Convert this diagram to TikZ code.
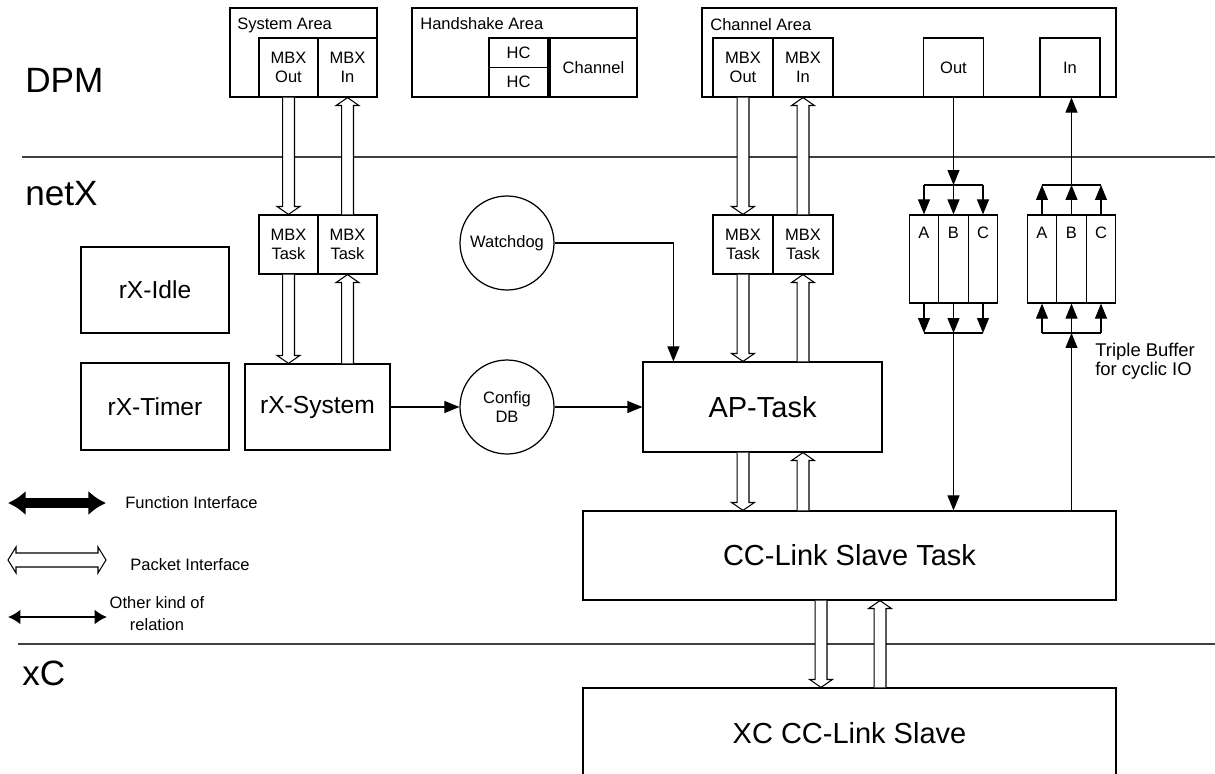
\documentclass[tikz,border=0pt]{standalone}
\usepackage{fontspec}
\setmainfont{Liberation Sans}
\usetikzlibrary{arrows.meta}
\usetikzlibrary{calc}

\begin{document}
\begin{tikzpicture}[x=0.02cm,y=-0.02cm]
    \tikzset{box/.style = {shape=rectangle,draw,line width=0.7pt,inner sep=0pt,align=center,font=\fontsize{9.4}{11}\selectfont}}
    \tikzset{box2/.style = {box,font=\fontsize{14}{16}\selectfont}}
    \tikzset{box3/.style = {box,font=\fontsize{16.5}{19}\selectfont}}
    \tikzset{circ/.style = {shape=circle,draw,line width=0.7pt,inner sep=0pt,minimum size=1.88cm,align=center,font=\fontsize{9.4}{11}\selectfont}}
    \tikzset{cell/.style = {box,minimum width=0.59cm,minimum height=1.76cm}}
    \tikzset{celltxt/.style = {anchor=north,yshift=-0.24cm,inner sep=0pt,font=\fontsize{9.4}{11}\selectfont}}
    \tikzset{txt/.style = {inner sep=0pt,font=\fontsize{9.4}{11}\selectfont}}
    \tikzset{sect/.style = {inner sep=0pt,anchor=base west,font=\fontsize{20}{24}\selectfont}}
    \tikzset{sepline/.style = {line width=0.9pt,black!75}}
    \tikzset{edge/.style = {line width=0.6pt,-{Triangle[length=8.5pt,width=6.8pt]}}}
    % hollow packet arrow (vertical)
    \tikzset{pkt/.style = {line width=0.6pt,fill=white,
      to path={let \p1=(\tikztostart), \p2=(\tikztotarget), \n1={(\y2-\y1)/abs(\y2-\y1)} in
        (\x1-3.4pt,\y1) -- (\x2-3.4pt,\y2-\n1*4.5pt) -- (\x2-6.5pt,\y2-\n1*4.5pt) -- (\x2,\y2)
        -- (\x2+6.5pt,\y2-\n1*4.5pt) -- (\x2+3.4pt,\y2-\n1*4.5pt) -- (\x1+3.4pt,\y1)}}}

    \useasboundingbox (0,0) rectangle (1215,774);

    % layers
    \draw[sepline] (22,157) -- (1215,157);
    \draw[sepline] (18,644) -- (1215,644);
    \node[sect] (dpm) at (25,92) {DPM};
    \node[sect] (netx) at (25,205) {netX};
    \node[sect] (xc) at (22,685) {xC};

    % DPM
    \node[box,minimum width=2.94cm,minimum height=1.78cm] (sysarea) at (303.5,52.5) {};
    \node[txt,anchor=base west] (sysareat) at (237,30) {System Area};
    \node[box,minimum width=1.18cm,minimum height=1.18cm] (sysout) at (288.5,67.5) {MBX\\Out};
    \node[box,minimum width=1.18cm,minimum height=1.18cm] (sysin) at (347.5,67.5) {MBX\\In};

    \node[box,minimum width=4.5cm,minimum height=1.78cm] (hsarea) at (524.5,52.5) {};
    \node[txt,anchor=base west] (hsareat) at (420,30) {Handshake Area};
    \node[box,minimum width=1.18cm,minimum height=0.59cm] (hca) at (518.5,52.75) {HC};
    \node[box,minimum width=1.18cm,minimum height=0.59cm] (hcb) at (518.5,82.25) {HC};
    \node[box,minimum width=1.74cm,minimum height=1.18cm] (chan) at (593.5,67.5) {Channel};

    \node[box,minimum width=8.28cm,minimum height=1.78cm] (charea) at (909,52.5) {};
    \node[txt,anchor=base west] (chareat) at (710,31) {Channel Area};
    \node[box,minimum width=1.2cm,minimum height=1.18cm] (chout) at (743,67.5) {MBX\\Out};
    \node[box,minimum width=1.2cm,minimum height=1.18cm] (chin) at (803,67.5) {MBX\\In};
    \node[box,minimum width=1.2cm,minimum height=1.18cm] (outbox) at (953.5,67.5) {Out};
    \node[box,minimum width=1.2cm,minimum height=1.18cm] (inbox) at (1070,67.5) {In};

    % netX
    \node[box,minimum width=1.18cm,minimum height=1.18cm] (systaska) at (288.5,244.5) {MBX\\Task};
    \node[box,minimum width=1.18cm,minimum height=1.18cm] (systaskb) at (347.5,244.5) {MBX\\Task};
    \node[box,minimum width=1.2cm,minimum height=1.18cm] (chtaska) at (743,244.5) {MBX\\Task};
    \node[box,minimum width=1.2cm,minimum height=1.18cm] (chtaskb) at (803,244.5) {MBX\\Task};

    \node[box2,minimum width=2.96cm,minimum height=1.72cm] (rxidle) at (155,290) {rX-Idle};
    \node[box2,minimum width=2.96cm,minimum height=1.74cm] (rxtimer) at (155,406.5) {rX-Timer};
    \node[box2,minimum width=2.9cm,minimum height=1.72cm] (rxsys) at (317.5,407) {rX-System};
    \node[circ] (wd) at (507,243) {Watchdog};
    \node[circ] (cfg) at (507,407) {Config\\DB};
    \node[box3,minimum width=4.78cm,minimum height=1.8cm] (aptask) at (762.5,407) {AP-Task};
    \node[box3,minimum width=10.66cm,minimum height=1.78cm] (cctask) at (849.5,555.5) {CC-Link Slave Task};
    \node[box3,minimum width=10.66cm,minimum height=1.8cm] (xcslave) at (849.5,733) {XC CC-Link Slave};

    % triple buffers
    \node[cell,label={[celltxt]north:A}] (oa) at (924,259) {};
    \node[cell,label={[celltxt]north:B}] (ob) at (953.5,259) {};
    \node[cell,label={[celltxt]north:C}] (oc) at (983,259) {};
    \node[cell,label={[celltxt]north:A}] (ia) at (1042,259) {};
    \node[cell,label={[celltxt]north:B}] (ib) at (1071.5,259) {};
    \node[cell,label={[celltxt]north:C}] (ic) at (1101,259) {};
    \node[txt,anchor=west,align=left,font=\fontsize{10.5}{11}\selectfont] (tbuf) at (1095,361.5) {Triple Buffer\\for cyclic IO};

    \coordinate (obt) at (953.5,185);
    \coordinate (obb) at (953.5,333);
    \coordinate (ibt) at (1071.5,185);
    \coordinate (ibb) at (1071.5,333);
    \coordinate (xdn) at (821,644);
    \coordinate (xup) at (880,644);

    %edges
    \draw[edge] (outbox.south) -- (obt);
    \draw[line width=0.6pt] (oa.north |- obt) -- (oc.north |- obt);
    \foreach \c in {oa,ob,oc} \draw[edge] (\c.north |- obt) -- (\c.north);
    \foreach \c in {oa,ob,oc} \draw[edge] (\c.south) -- (\c.south |- obb);
    \draw[line width=0.6pt] (oa.south |- obb) -- (oc.south |- obb);
    \draw[edge] (obb) -- (cctask.north -| obb);

    \draw[edge] (ibt) -- (inbox.south -| ibt);
    \draw[line width=0.6pt] (ia.north |- ibt) -- (ic.north |- ibt);
    \foreach \c in {ia,ib,ic} \draw[edge] (\c.north) -- (\c.north |- ibt);
    \foreach \c in {ia,ib,ic} \draw[edge] (\c.south |- ibb) -- (\c.south);
    \draw[line width=0.6pt] (ia.south |- ibb) -- (ic.south |- ibb);
    \draw[edge] (cctask.north -| ibb) -- (ibb);

    \draw[edge] (wd.east) -| ([xshift=0.62cm]aptask.north west);
    \draw[edge] (rxsys) -- (cfg);
    \draw[edge] (cfg) -- (aptask);

    % packets
    \draw[pkt] (sysout.south) to (systaska.north);
    \draw[pkt] (systaskb.north) to (sysin.south);
    \draw[pkt] (systaska.south) to (rxsys.north -| systaska);
    \draw[pkt] (rxsys.north -| systaskb) to (systaskb.south);
    \draw[pkt] (chout.south) to (chtaska.north);
    \draw[pkt] (chtaskb.north) to (chin.south);
    \draw[pkt] (chtaska.south) to (aptask.north -| chtaska);
    \draw[pkt] (aptask.north -| chtaskb) to (chtaskb.south);
    \draw[pkt] (aptask.south -| chtaska) to (cctask.north -| chtaska);
    \draw[pkt] (cctask.north -| chtaskb) to (aptask.south -| chtaskb);
    \draw[pkt] (cctask.south -| xdn) to (xcslave.north -| xdn);
    \draw[pkt] (xcslave.north -| xup) to (cctask.south -| xup);

    % legend
    \coordinate (fa) at (8,503);
    \coordinate (fb) at (106,503);
    \coordinate (pa) at (8,560);
    \coordinate (pb) at (106,560);
    \coordinate (ra) at (8,617);
    \coordinate (rb) at (107,617);
    \draw[line width=5.5pt,{Latex[length=10pt,width=14pt]}-{Latex[length=10pt,width=14pt]}] (fa) -- (fb);
    \draw[line width=0.6pt] (pa) -- ++(8,-13) -- ++(0,6) -- ($(pb)+(-8,-7)$) -- ++(0,-6) -- (pb)
      -- ++(-8,13) -- ++(0,-6) -- ($(pa)+(8,7)$) -- ++(0,6) -- cycle;
    \draw[line width=1.7pt,{Latex[length=7pt,width=8.5pt]}-{Latex[length=7pt,width=8.5pt]}] (ra) -- (rb);
    \node[txt,anchor=west] (ft) at (125,503) {Function Interface};
    \node[txt,anchor=west] (pt) at (130,565) {Packet Interface};
    \node[txt,align=center,font=\fontsize{9.4}{12.5}\selectfont] (rt) at (157,614) {Other kind of\\relation};
\end{tikzpicture}
\end{document}
